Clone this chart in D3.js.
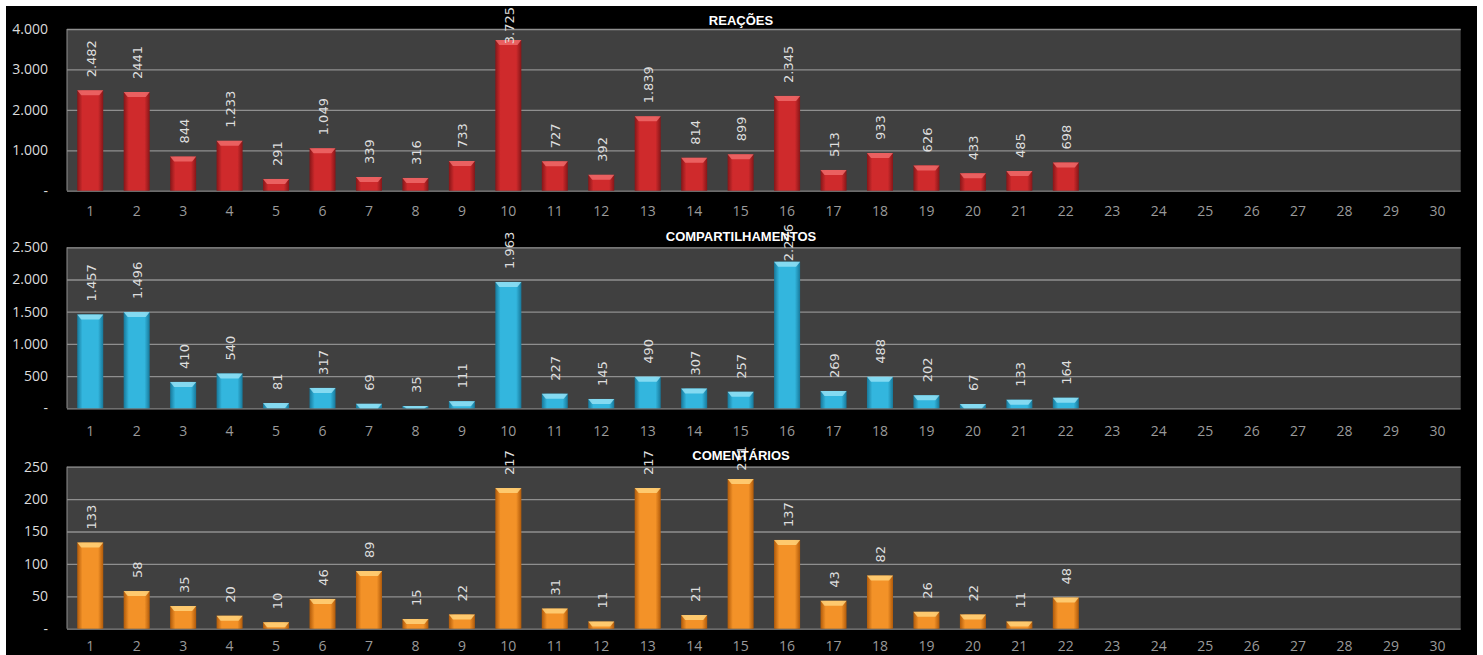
<!DOCTYPE html>
<html lang="pt-BR">
<head>
<meta charset="utf-8">
<title>Reações, compartilhamentos e comentários</title>
<script src="https://cdn.jsdelivr.net/npm/d3@7"></script>
<style>
  html, body { margin: 0; padding: 0; background: #ffffff; }
  svg { display: block; }
</style>
</head>
<body>
<div id="chart"></div>
<script>
const dias = d3.range(1, 31);

const reacoes = [2482, 2441, 844, 1233, 291, 1049, 339, 316, 733, 3725, 727, 392, 1839, 814, 899, 2345, 513, 933, 626, 433, 485, 698];
const compartilhamentos = [1457, 1496, 410, 540, 81, 317, 69, 35, 111, 1963, 227, 145, 490, 307, 257, 2276, 269, 488, 202, 67, 133, 164];
const comentarios = [133, 58, 35, 20, 10, 46, 89, 15, 22, 217, 31, 11, 217, 21, 231, 137, 43, 82, 26, 22, 11, 48];

const reacoesTicks = [0, 1000, 2000, 3000, 4000];
const compartilhamentosTicks = [0, 500, 1000, 1500, 2000, 2500];
const comentariosTicks = [0, 50, 100, 150, 200, 250];

// the source shows this one label without the thousands dot
const semSeparador = { 'REAÇÕES': [2] };

const width = 1483;
const height = 655;

const pt = d3.formatLocale({ decimal: ',', thousands: '.', grouping: [3], currency: ['R$', ''] });
const fmt = pt.format(',d');

const svg = d3.select('#chart')
  .append('svg')
  .attr('width', width)
  .attr('height', height);

const defs = svg.append('defs');

function addGradient(id, edge, mid) {
  const g = defs.append('linearGradient')
    .attr('id', id)
    .attr('x1', '0%').attr('x2', '100%')
    .attr('y1', '0%').attr('y2', '0%');
  g.append('stop').attr('offset', '0%').attr('stop-color', edge);
  g.append('stop').attr('offset', '20%').attr('stop-color', mid);
  g.append('stop').attr('offset', '80%').attr('stop-color', mid);
  g.append('stop').attr('offset', '100%').attr('stop-color', edge);
}

addGradient('grad-red', '#861618', '#cf2a2c');
addGradient('grad-blue', '#17789a', '#33b6de');
addGradient('grad-orange', '#b05a0a', '#f39228');

// black canvas behind the three charts
svg.append('rect')
  .attr('x', 6).attr('y', 6)
  .attr('width', 1471).attr('height', height - 6)
  .attr('fill', '#000000');

const paineis = [
  { titulo: 'REAÇÕES', valores: reacoes, ticks: reacoesTicks, max: 4000,
    topo: 29, base: 190.7, limite: 7, tituloY: 20, xLabelY: 211,
    grad: 'url(#grad-red)', tampa: '#ee6a6a' },
  { titulo: 'COMPARTILHAMENTOS', valores: compartilhamentos, ticks: compartilhamentosTicks, max: 2500,
    topo: 247.3, base: 408.3, limite: 224, tituloY: 236, xLabelY: 431,
    grad: 'url(#grad-blue)', tampa: '#93e0f5' },
  { titulo: 'COMENTÁRIOS', valores: comentarios, ticks: comentariosTicks, max: 250,
    topo: 466.7, base: 628.7, limite: 446, tituloY: 455, xLabelY: 646,
    grad: 'url(#grad-orange)', tampa: '#ffd27a' }
];

const left = 67;
const right = 1460.7;

const xScale = d3.scaleBand()
  .domain(dias)
  .range([left, right])
  .paddingInner(0.44)
  .paddingOuter(0.22);

function drawPanel(p) {
  const yScale = d3.scaleLinear()
    .domain([0, p.max])
    .range([p.base, p.topo]);

  const g = svg.append('g').attr('class', 'painel');

  g.append('rect')
    .attr('x', left).attr('y', p.topo)
    .attr('width', right - left).attr('height', p.base - p.topo)
    .attr('fill', '#404040');

  // gridlines
  const grid = g.append('g')
    .attr('transform', `translate(${left},0)`)
    .call(d3.axisLeft(yScale).tickValues(p.ticks).tickSize(-(right - left)).tickFormat(''));
  grid.select('.domain').remove();
  grid.selectAll('line')
    .attr('stroke', '#8f8f8f')
    .attr('stroke-width', 1.3);

  g.append('line')
    .attr('x1', left).attr('x2', left)
    .attr('y1', p.topo).attr('y2', p.base)
    .attr('stroke', '#8f8f8f');

  // y axis labels
  const yAxis = g.append('g')
    .attr('transform', `translate(48,0)`)
    .call(d3.axisLeft(yScale).tickValues(p.ticks).tickSize(0)
      .tickFormat((d) => d === 0 ? '-' : fmt(d)));
  yAxis.select('.domain').remove();
  yAxis.selectAll('text')
    .attr('x', 0)
    .attr('fill', '#dcdcdc')
    .style('font-family', '"Open Sans", "Liberation Sans", sans-serif')
    .style('font-size', '14px');

  // x axis labels
  const xAxis = g.append('g')
    .attr('transform', `translate(0,${p.xLabelY})`)
    .call(d3.axisBottom(xScale).tickSize(0));
  xAxis.select('.domain').remove();
  xAxis.selectAll('text')
    .attr('y', 0)
    .attr('dy', '0.35em')
    .attr('fill', '#9a9a9a')
    .style('font-family', '"Open Sans", "Liberation Sans", sans-serif')
    .style('font-size', '14px');

  const dados = p.valores.map((v, i) => ({ dia: i + 1, valor: v }));
  const bw = xScale.bandwidth();

  const barras = g.append('g').attr('class', 'barras')
    .selectAll('g')
    .data(dados)
    .join('g');

  barras.append('rect')
    .attr('x', (d) => xScale(d.dia))
    .attr('y', (d) => yScale(d.valor))
    .attr('width', bw)
    .attr('height', (d) => p.base - yScale(d.valor))
    .attr('fill', p.grad);

  // light bevel on top of each bar
  barras.append('path')
    .attr('d', (d) => {
      const x0 = xScale(d.dia);
      const y0 = yScale(d.valor);
      const h = Math.min(5, p.base - y0);
      return `M${x0},${y0} L${x0 + bw},${y0} L${x0 + bw - 4},${y0 + h} L${x0 + 4},${y0 + h} Z`;
    })
    .attr('fill', p.tampa)
    .attr('opacity', 0.85);

  // value labels, rotated
  const noDot = semSeparador[p.titulo] || [];
  const labels = g.append('g').attr('class', 'rotulos')
    .selectAll('text')
    .data(dados)
    .join('text')
    .text((d) => noDot.includes(d.dia) ? String(d.valor) : fmt(d.valor))
    .attr('fill', '#dedede')
    .attr('text-anchor', 'start')
    .attr('dominant-baseline', 'central')
    .style('font-family', '"DejaVu Sans", sans-serif')
    .style('font-size', '13px');

  labels.each(function (d) {
    const len = this.getComputedTextLength();
    let start = yScale(d.valor) - 13;
    if (start - len < p.limite) start = p.limite + len;
    const cx = xScale(d.dia) + bw / 2 + 1;
    d3.select(this).attr('transform', `translate(${cx},${start}) rotate(-90)`);
  });

  g.append('text')
    .attr('x', 741)
    .attr('y', p.tituloY)
    .attr('text-anchor', 'middle')
    .attr('dominant-baseline', 'central')
    .attr('fill', '#ffffff')
    .style('font-family', '"Liberation Sans", Arial, sans-serif')
    .style('font-weight', 'bold')
    .style('font-size', '13px')
    .text(p.titulo);
}

paineis.forEach(drawPanel);
</script>
</body>
</html>
